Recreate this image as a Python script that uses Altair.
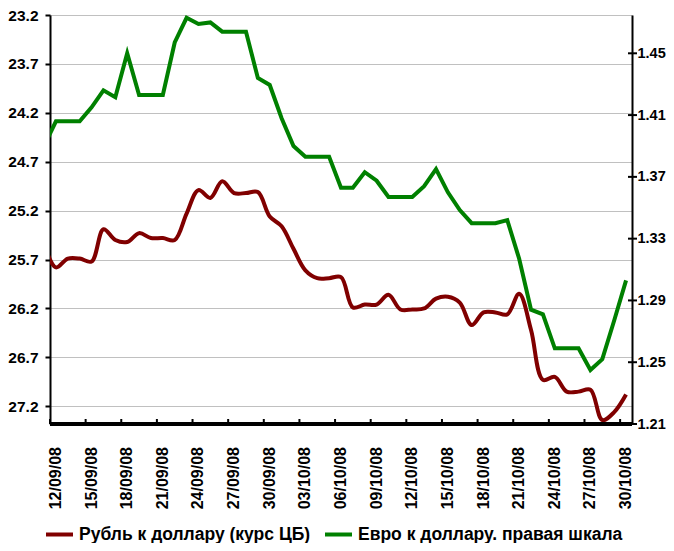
import altair as alt
import pandas as pd

# ---- data ----
tick_labels = ["12/09/08", "15/09/08", "18/09/08", "21/09/08", "24/09/08", "27/09/08",
               "30/09/08", "03/10/08", "06/10/08", "09/10/08", "12/10/08", "15/10/08",
               "18/10/08", "21/10/08", "24/10/08", "27/10/08", "30/10/08"]
# day index: -1 = 11/09/08 (clipped at the left edge), 0 = 12/09/08 ... 48 = 30/10/08
day_index = list(range(-1, 49))
rub = [25.55, 25.78, 25.69, 25.69, 25.72, 25.39, 25.50, 25.52, 25.43, 25.48,
       25.48, 25.50, 25.23, 24.99, 25.07, 24.90, 25.02, 25.02, 25.01, 25.26,
       25.36, 25.59, 25.81, 25.89, 25.89, 25.88, 26.19, 26.16, 26.16, 26.06,
       26.21, 26.21, 26.20, 26.10, 26.08, 26.14, 26.37, 26.24, 26.24, 26.26,
       26.05, 26.42, 26.93, 26.90, 27.05, 27.05, 27.03, 27.34, 27.26, 27.08]
eur = [1.390, 1.406, 1.406, 1.406, 1.415, 1.426, 1.4215, 1.450, 1.423, 1.423,
       1.423, 1.457, 1.473, 1.469, 1.470, 1.464, 1.464, 1.464, 1.434, 1.4295,
       1.408, 1.390, 1.383, 1.383, 1.383, 1.363, 1.363, 1.373, 1.3675, 1.357,
       1.357, 1.357, 1.364, 1.375, 1.360, 1.3485, 1.340, 1.340, 1.340, 1.342,
       1.317, 1.284, 1.281, 1.259, 1.259, 1.259, 1.245, 1.252, 1.277, 1.303]
rub_ticks = [23.2, 23.7, 24.2, 24.7, 25.2, 25.7, 26.2, 26.7, 27.2]
eur_ticks = [1.21, 1.25, 1.29, 1.33, 1.37, 1.41, 1.45]
ru_name = "Рубль к доллару (курс ЦБ)"
eu_name = "Евро к доллару. правая шкала"

W, H = 582, 409
FONT = "Liberation Sans"

df = pd.DataFrame({"i": day_index, "rub": rub, "eur": eur})
label_df = pd.DataFrame({"k": [k * 3 for k in range(len(tick_labels))],
                         "label": tick_labels})
xtick_df = pd.DataFrame({"b": [k * 3 - 0.5 for k in range(len(tick_labels))]})
rtick_df = pd.DataFrame({"v": eur_ticks})

color_scale = alt.Scale(domain=[ru_name, eu_name], range=["#800000", "#008000"])
x_scale = alt.Scale(domain=[-0.5, 48.5], nice=False, zero=False)

legend = alt.Legend(title=None, orient="none", legendX=-6, legendY=504,
                    direction="horizontal", symbolType="stroke", symbolStrokeWidth=4,
                    symbolSize=729, labelFont=FONT, labelFontSize=17.5,
                    labelFontWeight="bold", labelColor="black", labelOffset=4,
                    columnPadding=6, padding=0, labelLimit=500)

rub_line = alt.Chart(df).transform_calculate(series="'%s'" % ru_name).mark_line(
    interpolate="catmull-rom", strokeWidth=4, clip=True).encode(
    x=alt.X("i:Q", scale=x_scale, axis=None),
    y=alt.Y("rub:Q",
            scale=alt.Scale(domain=[23.2, 27.381], reverse=True, nice=False, zero=False),
            axis=alt.Axis(values=rub_ticks, format=".1f", grid=True, gridColor="#c0c0c0",
                          gridWidth=1, tickSize=5, tickColor="black", tickWidth=2,
                          domainColor="black", domainWidth=2, labelFont=FONT,
                          labelFontSize=15.5, labelFontWeight="bold", labelColor="black",
                          labelPadding=7, title=None)),
    color=alt.Color("series:N", scale=color_scale, legend=legend),
)

eur_line = alt.Chart(df).transform_calculate(series="'%s'" % eu_name).mark_line(
    strokeWidth=4, clip=True).encode(
    x=alt.X("i:Q", scale=x_scale, axis=None),
    y=alt.Y("eur:Q", scale=alt.Scale(domain=[1.21, 1.4748], nice=False, zero=False),
            axis=alt.Axis(orient="right", values=eur_ticks, format=".2f", grid=False,
                          ticks=False, domainColor="black", domainWidth=2,
                          labelFont=FONT, labelFontSize=14.5, labelFontWeight="bold",
                          labelColor="black", labelPadding=5, title=None)),
    color=alt.Color("series:N", scale=color_scale, legend=legend),
)

# bottom axis line
x_domain = alt.Chart(xtick_df).mark_rule(color="black", strokeWidth=2.5).encode(
    x=alt.value(0), x2=alt.value(W), y=alt.value(H),
)

# inward tick marks at category boundaries
x_ticks = alt.Chart(xtick_df).mark_rule(color="black", strokeWidth=2).encode(
    x=alt.X("b:Q", scale=x_scale, axis=None),
    y=alt.value(H - 5), y2=alt.value(H),
)

# rotated date labels centred on their day
x_labels = alt.Chart(label_df).mark_text(
    angle=270, align="right", baseline="middle", font=FONT, fontSize=16,
    fontWeight="bold", color="black", dx=-23).encode(
    x=alt.X("k:Q", scale=x_scale, axis=None),
    y=alt.value(H),
    text="label:N",
)

r_ticks = alt.Chart(rtick_df).mark_rule(color="black", strokeWidth=2).encode(
    y=alt.Y("v:Q", scale=alt.Scale(domain=[1.21, 1.4748], nice=False, zero=False), axis=None),
    x=alt.value(W - 4), x2=alt.value(W + 5),
)

chart = alt.layer(rub_line, eur_line, x_domain, x_ticks, x_labels, r_ticks).resolve_scale(
    y="independent"
).properties(
    width=W, height=H,
    autosize=alt.AutoSizeParams(type="none"),
    padding={"left": 42, "top": 7, "right": 34, "bottom": 119},
).configure_view(stroke=None).configure(background="white")

chart.save("out.html", embed_options={"renderer": "svg", "actions": False})
